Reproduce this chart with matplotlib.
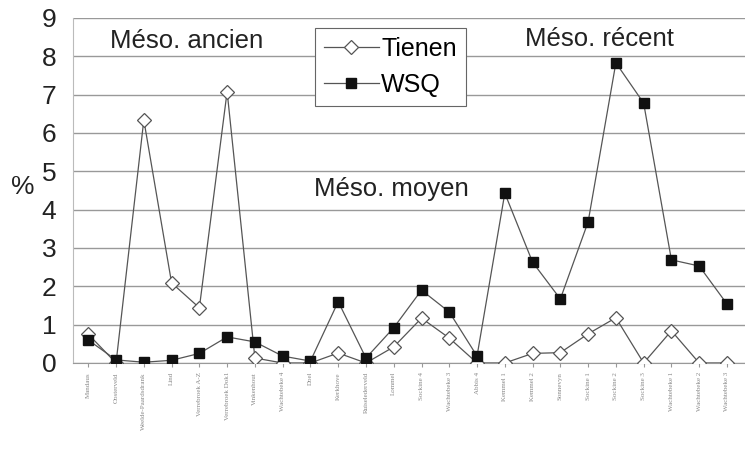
import numpy as np
import matplotlib.pyplot as plt

plt.rcParams['font.family'] = ['Liberation Sans', 'DejaVu Sans']

# -- data --
sites = ["Mandaus", "Oosterveld", "Weelde-Paardsdrank", "Lind", "Verrebroek A-Z",
         "Verrebroek Dok1", "Vinkenhout", "Wachtebeke 4", "Doel", "Kerkhove",
         "Ruiselederveld", "Lommel", "Sockine 4", "Wachtebeke 3", "Abbis 4",
         "Kemmel 1", "Kemmel 2", "Sonnevyn", "Sockine 1", "Sockine 2",
         "Sockine 3", "Wachtebeke 1", "Wachtebeke 2", "Wachtebeke 3"]
tienen = [0.75, 0.0, 6.34, 2.09, 1.44, 7.08, 0.13, 0.0, 0.0, 0.26, 0.0, 0.42,
          1.17, 0.65, 0.0, 0.0, 0.25, 0.27, 0.76, 1.18, 0.0, 0.84, 0.0, 0.0]
wsq = [0.6, 0.08, 0.02, 0.07, 0.25, 0.68, 0.55, 0.18, 0.05, 1.6, 0.13, 0.92,
       1.9, 1.33, 0.18, 4.43, 2.63, 1.67, 3.68, 7.83, 6.78, 2.69, 2.53, 1.54]

x = np.arange(len(sites))

fig = plt.figure(figsize=(7.45, 4.61), dpi=100)
ax = fig.add_axes([0.098, 0.2126, 0.902, 0.7484])

ax.plot(x, tienen, color='#555555', lw=0.9, marker='D', ms=7, mfc='white',
        mec='#555555', mew=0.9, label='Tienen', zorder=3)
ax.plot(x, wsq, color='#555555', lw=0.9, marker='s', ms=7, mfc='#111111',
        mec='#111111', label='WSQ', zorder=4)

ax.set_ylim(0, 9)
ax.set_xlim(-0.55, 23.65)
ax.set_yticks(range(0, 10))
ax.tick_params(axis='y', labelsize=19, length=0, pad=12, colors='#222222')
ax.grid(axis='y', color='#999999', lw=1)
ax.set_axisbelow(True)
for s in ['top', 'right']:
    ax.spines[s].set_visible(False)
ax.spines['left'].set_color('#bbbbbb')
ax.spines['bottom'].set_color('#999999')

ax.set_xticks(x)
ax.set_xticklabels(sites, rotation=90, fontsize=5, color='#888888',
                   family='Liberation Serif')
ax.tick_params(axis='x', length=3, color='#999999')

fig.text(0.03, 0.595, '%', fontsize=19, ha='center', va='center', color='#222222')

ax.text(3.55, 8.4, 'Méso. ancien', fontsize=18.5, ha='center', va='center', color='#222222')
ax.text(18.4, 8.45, 'Méso. récent', fontsize=18.5, ha='center', va='center', color='#222222')
ax.text(10.9, 4.55, 'Méso. moyen', fontsize=18.5, ha='center', va='center', color='#222222')

leg = ax.legend(loc='upper left', bbox_to_anchor=(0.36, 0.971), borderaxespad=0,
                fontsize=18, handlelength=2.2, frameon=True, fancybox=False,
                borderpad=0.35, labelspacing=0.5, handletextpad=0.1)
leg.get_frame().set_edgecolor('#666666')
leg.get_frame().set_linewidth(0.8)
leg.get_frame().set_alpha(1)

fig.savefig('out.png', dpi=100)
